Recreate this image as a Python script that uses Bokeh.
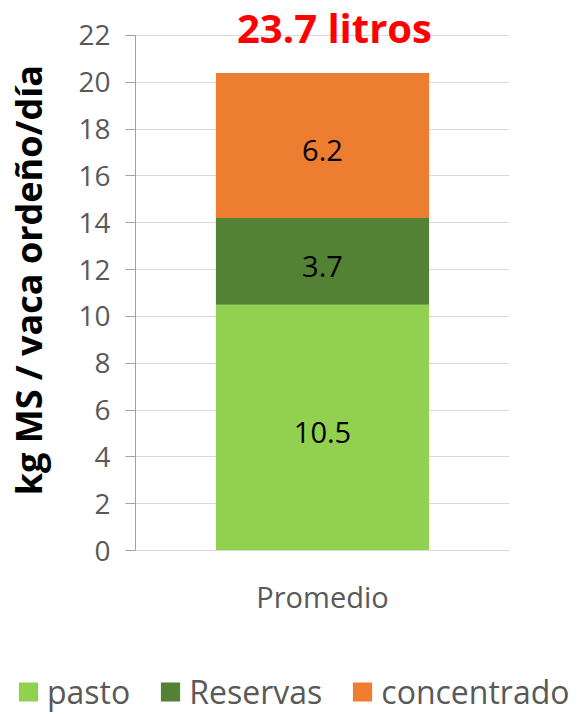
from bokeh.plotting import figure
from bokeh.layouts import column
from bokeh.models import ColumnDataSource, FactorRange, Range1d, Label, SingleIntervalTicker
from bokeh.core.properties import value
from bokeh.embed import file_html
from bokeh.resources import INLINE

categories = ["Promedio"]
series_names = ["pasto", "Reservas", "concentrado"]
pasto = [10.5]
reservas = [3.7]
concentrado = [6.2]
litros_label = "23.7 litros"
y_label = "kg MS /  vaca ordeño/día"
y_ticks_max = 22
colors = ["#92D050", "#548235", "#ED7D31"]

FONT = "Open Sans"

source = ColumnDataSource(dict(cat=categories, pasto=pasto, Reservas=reservas, concentrado=concentrado))

p = figure(x_range=FactorRange(*categories), y_range=Range1d(0, 23.495),
           width=577, height=628, output_backend="svg", toolbar_location=None,
           min_border_left=135, min_border_right=68, min_border_top=0, min_border_bottom=78)

p.vbar_stack(series_names, x="cat", width=0.57, color=colors, line_color=None, source=source)

# data labels at segment midpoints
mids, texts = [], []
base = 0.0
for vals in (pasto, reservas, concentrado):
    v = vals[0]
    mids.append(base + v / 2.0)
    texts.append(f"{v:.1f}")
    base += v
lab_src = ColumnDataSource(dict(x=categories * 3, y=mids, t=texts))
p.text(x="x", y="y", text="t", source=lab_src, text_align="center", text_baseline="middle",
       y_offset=5, text_font=value(FONT), text_font_size="29px", text_color="#000000")

title = Label(x=0.5, y=y_ticks_max, text=litros_label, text_align="center", text_baseline="middle",
              x_offset=12, y_offset=8, text_font=FONT, text_font_size="40px", text_font_style="bold",
              text_color="#FF0000")
p.add_layout(title)

p.outline_line_color = None
p.xgrid.grid_line_color = None
p.ygrid.grid_line_color = "#D9D9D9"
p.ygrid.grid_line_width = 1

yax = p.yaxis[0]
yax.ticker = SingleIntervalTicker(interval=2)
yax.bounds = (0, y_ticks_max)
yax.minor_tick_line_color = None
yax.major_tick_out = 10
yax.major_tick_in = 0
yax.axis_line_color = "#A0A0A0"
yax.major_tick_line_color = "#A0A0A0"
yax.major_label_text_font = FONT
yax.major_label_text_font_size = "28px"
yax.major_label_text_color = "#595959"
yax.major_label_standoff = 15
yax.axis_label = y_label
yax.axis_label_text_font = FONT
yax.axis_label_text_font_size = "36px"
yax.axis_label_text_font_style = "bold"
yax.axis_label_text_color = "#000000"
yax.axis_label_standoff = 22

xax = p.xaxis[0]
xax.axis_line_color = "#D9D9D9"
xax.major_tick_line_color = None
xax.minor_tick_line_color = None
xax.major_label_text_font = FONT
xax.major_label_text_font_size = "29px"
xax.major_label_text_color = "#595959"
xax.major_label_standoff = 20

# legend panel: same series (renderers hidden), only the legend shows
p2 = figure(width=577, height=86, x_range=FactorRange(*categories), y_range=Range1d(0, 22),
            output_backend="svg", toolbar_location=None, x_axis_type=None, y_axis_type=None,
            min_border_left=16, min_border_right=0, min_border_top=40, min_border_bottom=0)
p2.outline_line_color = None
p2.xgrid.visible = False
p2.ygrid.visible = False
leg_renderers = p2.vbar_stack(series_names, x="cat", width=0.57, color=colors, line_color=None,
                              source=source, legend_label=series_names)
for r in leg_renderers:
    r.visible = False

try:
    p.frame_align = False
    p2.frame_align = False
except AttributeError:
    pass

leg = p2.legend[0]
leg.orientation = "horizontal"
leg.nrows = 1
leg.location = "left"
leg.click_policy = "none"
leg.inactive_fill_alpha = 0
leg.padding = 0
leg.margin = 0
leg.border_line_color = None
leg.background_fill_alpha = 0
leg.glyph_width = 24
leg.glyph_height = 24
leg.label_standoff = 7
leg.spacing = 28
leg.label_text_font = FONT
leg.label_text_font_size = "32px"
leg.label_text_color = "#595959"

layout = column(p, p2, spacing=0)
open("out.html", "w").write(file_html(layout, INLINE))
